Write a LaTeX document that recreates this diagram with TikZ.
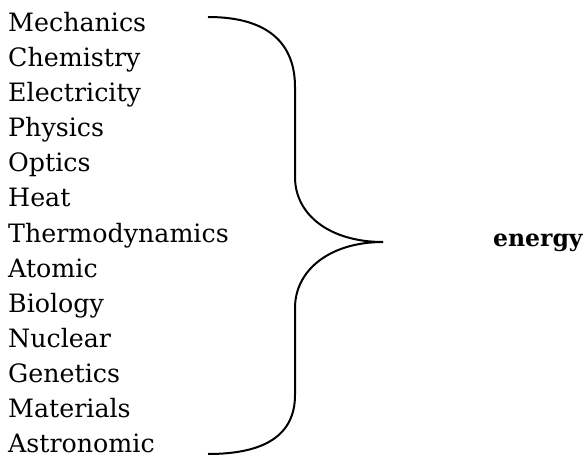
\documentclass[tikz,border=0pt]{standalone}
\usepackage{fontspec}
\setmainfont{DejaVu Serif}
\tikzset{
  topic/.style={anchor=base west, inner sep=0pt, font=\fontsize{25.3}{30}\selectfont},
  target/.style={anchor=base west, inner sep=0pt, font=\fontsize{23.5}{28}\selectfont\bfseries},
  brace/.style={black, line width=2pt}
}
\begin{document}
\begin{tikzpicture}[x=1pt, y=-1pt]
                \useasboundingbox (0,0) rectangle (586,465);

                \node[topic] (mechanics) at (8,32) {Mechanics};
                \node[topic] (chemistry) at (8,67) {Chemistry};
                \node[topic] (electricity) at (8,102) {Electricity};
                \node[topic] (physics) at (8,137) {Physics};
                \node[topic] (optics) at (8,172) {Optics};
                \node[topic] (heat) at (8,207) {Heat};
                \node[topic] (thermo) at (8,242) {Thermodynamics};
                \node[topic] (atomic) at (8,277) {Atomic};
                \node[topic] (biology) at (8,312) {Biology};
                \node[topic] (nuclear) at (8,347) {Nuclear};
                \node[topic] (genetics) at (8,382) {Genetics};
                \node[topic] (materials) at (8,417) {Materials};
                \node[topic] (astro) at (8,452) {Astronomic};

                \node[target] (energy) at (493,246) {energy};

                % the big curly brace
                \draw [brace] (208,17) .. controls (270,17) and (295,45) .. (295,87)
                    -- (295,177) .. controls (295,215) and (330,242) .. (383,242);
                \draw [brace] (383,242) .. controls (330,242) and (295,270) .. (295,308)
                    -- (295,395) .. controls (295,435) and (265,454) .. (208,454);
            \end{tikzpicture}
\end{document}
